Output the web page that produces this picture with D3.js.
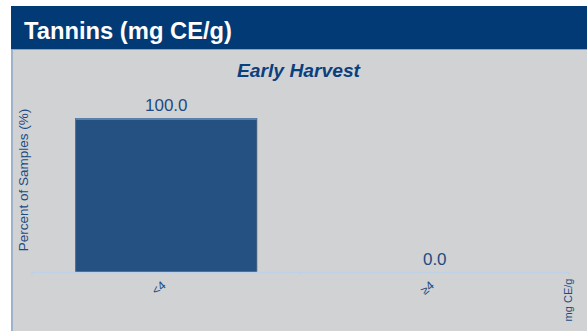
<!DOCTYPE html>
<html>
<head>
<meta charset="utf-8">
<script src="https://cdn.jsdelivr.net/npm/d3@7"></script>
<style>
  html, body { margin: 0; padding: 0; background: #ffffff; }
  svg { display: block; }
</style>
</head>
<body>
<svg id="chart" width="587" height="331"></svg>
<script>
const categories = ["<4", "\u22654"];
const values = [100.0, 0.0];
const yDomain = [0, 100];
const chartTitle = "Tannins (mg CE/g)";
const subTitle = "Early Harvest";
const yAxisTitle = "Percent of Samples (%)";
const xAxisTitle = "mg CE/g";

const svg = d3.select("#chart");
const W = 587, H = 331;
const FONT = "Liberation Sans, Arial, sans-serif";

svg.append("defs").append("clipPath").attr("id", "ytclip")
  .append("rect").attr("x", 17).attr("y", 49).attr("width", 40).attr("height", H - 49);

// header band
svg.append("rect").attr("x", 11).attr("y", 6).attr("width", W - 11).attr("height", 43).attr("fill", "#023a76");
// panel
svg.append("rect").attr("x", 11).attr("y", 49).attr("width", W - 11).attr("height", H - 49).attr("fill", "#d1d2d4");
svg.append("line").attr("x1", 12).attr("x2", 12).attr("y1", 49).attr("y2", H).attr("stroke", "#7f9cc2").attr("stroke-width", 1.2);
svg.append("line").attr("x1", 11).attr("x2", W).attr("y1", 49.5).attr("y2", 49.5).attr("stroke", "#8aa3c4").attr("stroke-width", 1);

svg.append("text").attr("x", 24).attr("y", 39).text(chartTitle)
  .attr("fill", "#ffffff").attr("font-family", FONT)
  .attr("font-weight", "bold").attr("font-size", 23)
  .attr("textLength", 208).attr("lengthAdjust", "spacingAndGlyphs");

svg.append("text").attr("x", 298.5).attr("y", 77).attr("text-anchor", "middle").text(subTitle)
  .attr("fill", "#0b3f7e").attr("font-family", FONT)
  .attr("font-weight", "bold").attr("font-style", "italic").attr("font-size", 18.5)
  .attr("textLength", 123).attr("lengthAdjust", "spacingAndGlyphs");

const x = d3.scaleBand().domain(categories).range([32, 569]).paddingInner(0.326).paddingOuter(0.163);
const y = d3.scaleLinear().domain(yDomain).range([272, 118]);

// bars
const g = svg.append("g");
categories.forEach((c, i) => {
  const x0 = x(c), bw = x.bandwidth(), yt = y(values[i]), yb = y(0);
  if (yb - yt > 0) {
    g.append("rect").attr("x", x0).attr("y", yt).attr("width", bw).attr("height", yb - yt)
      .attr("fill", "#255082");
    g.append("line").attr("x1", x0).attr("x2", x0).attr("y1", yt).attr("y2", yb).attr("stroke", "#3d5a7c").attr("stroke-width", 1);
    g.append("line").attr("x1", x0 + bw).attr("x2", x0 + bw).attr("y1", yt).attr("y2", yb).attr("stroke", "#3d5a7c").attr("stroke-width", 1);
    g.append("line").attr("x1", x0).attr("x2", x0 + bw).attr("y1", yt + 1).attr("y2", yt + 1).attr("stroke", "#5a80ad").attr("stroke-width", 2);
  }
  g.append("text").attr("x", x0 + bw / 2).attr("y", yt - 7).attr("text-anchor", "middle")
    .text(values[i].toFixed(1)).attr("fill", "#1c4b83")
    .attr("font-family", FONT).attr("font-size", 17);
});

// x axis
const xStep = x.step();
const ax = svg.append("g");
ax.append("line").attr("x1", 32).attr("x2", 569).attr("y1", 272.5).attr("y2", 272.5).attr("stroke", "#bfd1e6").attr("stroke-width", 1.5);
const bounds = [32].concat(categories.map(c => x(c) + x.bandwidth() + (xStep - x.bandwidth()) / 2));
bounds.forEach(b => {
  ax.append("line").attr("x1", b).attr("x2", b).attr("y1", 272).attr("y2", 276).attr("stroke", "#bfd1e6").attr("stroke-width", 1.5);
});
categories.forEach(c => {
  const cx = x(c) + x.bandwidth() / 2 - 5;
  ax.append("text").attr("transform", `translate(${cx},${291}) rotate(-40)`)
    .attr("text-anchor", "middle").text(c).attr("fill", "#1c4b83")
    .attr("font-family", FONT).attr("font-size", 12);
});

svg.append("g").attr("clip-path", "url(#ytclip)")
  .append("text")
  .attr("transform", `translate(27.5,180) rotate(-90)`).attr("text-anchor", "middle")
  .text(yAxisTitle).attr("fill", "#1c4b83")
  .attr("font-family", FONT).attr("font-size", 13.5);

svg.append("text").attr("transform", `translate(572,300) rotate(-90)`).attr("text-anchor", "middle")
  .text(xAxisTitle).attr("fill", "#1c4b83")
  .attr("font-family", FONT).attr("font-size", 11);
</script>
</body>
</html>
